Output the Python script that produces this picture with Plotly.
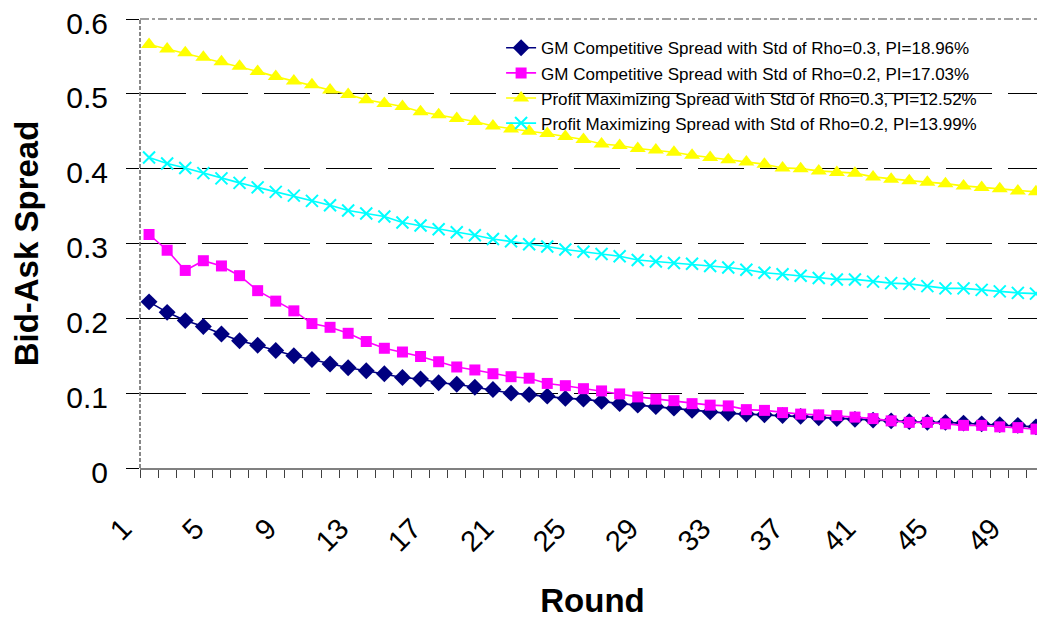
import plotly.graph_objects as go

rounds = list(range(1, 51))

gm_rho03 = [0.222, 0.208, 0.197, 0.189, 0.179, 0.170, 0.164, 0.157, 0.150, 0.145,
            0.139, 0.134, 0.130, 0.126, 0.121, 0.119, 0.114, 0.112, 0.108, 0.105,
            0.100, 0.098, 0.096, 0.093, 0.092, 0.089, 0.086, 0.084, 0.082, 0.080,
            0.077, 0.075, 0.073, 0.072, 0.071, 0.070, 0.069, 0.067, 0.066, 0.065,
            0.064, 0.063, 0.062, 0.061, 0.061, 0.060, 0.059, 0.058, 0.057, 0.055]

gm_rho02 = [0.312, 0.291, 0.264, 0.277, 0.270, 0.257, 0.237, 0.223, 0.210, 0.193,
            0.188, 0.180, 0.169, 0.160, 0.155, 0.149, 0.142, 0.135, 0.131, 0.126,
            0.122, 0.120, 0.113, 0.110, 0.106, 0.103, 0.099, 0.095, 0.092, 0.090,
            0.086, 0.084, 0.083, 0.078, 0.077, 0.074, 0.072, 0.071, 0.070, 0.068,
            0.066, 0.063, 0.061, 0.061, 0.059, 0.057, 0.057, 0.055, 0.054, 0.052]

pm_rho03 = [0.566, 0.560, 0.555, 0.549, 0.543, 0.537, 0.530, 0.523, 0.517, 0.512,
            0.505, 0.499, 0.492, 0.487, 0.483, 0.476, 0.472, 0.467, 0.463, 0.457,
            0.453, 0.450, 0.447, 0.443, 0.439, 0.433, 0.431, 0.427, 0.425, 0.422,
            0.418, 0.415, 0.412, 0.409, 0.406, 0.401, 0.400, 0.397, 0.395, 0.394,
            0.389, 0.386, 0.384, 0.382, 0.380, 0.377, 0.375, 0.373, 0.370, 0.369]

pm_rho02 = [0.415, 0.407, 0.401, 0.394, 0.387, 0.381, 0.375, 0.369, 0.364, 0.357,
            0.351, 0.344, 0.340, 0.336, 0.328, 0.324, 0.319, 0.315, 0.311, 0.306,
            0.303, 0.299, 0.296, 0.292, 0.289, 0.286, 0.283, 0.278, 0.276, 0.274,
            0.273, 0.270, 0.268, 0.265, 0.261, 0.259, 0.257, 0.254, 0.252, 0.252,
            0.249, 0.247, 0.246, 0.243, 0.240, 0.240, 0.238, 0.236, 0.234, 0.233]

series_names = [
    "GM Competitive Spread with Std of Rho=0.3, PI=18.96%",
    "GM Competitive Spread with Std of Rho=0.2, PI=17.03%",
    "Profit Maximizing Spread with Std of Rho=0.3, PI=12.52%",
    "Profit Maximizing Spread with Std of Rho=0.2, PI=13.99%",
]

x_tick_vals = [1, 5, 9, 13, 17, 21, 25, 29, 33, 37, 41, 45, 49]
x_tick_text = [str(v) for v in x_tick_vals]
y_tick_vals = [0, 0.1, 0.2, 0.3, 0.4, 0.5, 0.6]
y_tick_text = ["0", "0.1", "0.2", "0.3", "0.4", "0.5", "0.6"]

FONT = "Liberation Sans, Arial, sans-serif"

fig = go.Figure()
styles = [
    (gm_rho03, "#000080", dict(symbol="diamond", size=13, color="#000080")),
    (gm_rho02, "#FF00FF", dict(symbol="square", size=11, color="#FF00FF")),
    (pm_rho03, "#FFFF00", dict(symbol="triangle-up", size=14, color="#FFFF00")),
    (pm_rho02, "#00FFFF", dict(symbol="x-thin", size=12, color="#00FFFF",
                               line=dict(color="#00FFFF", width=2))),
]
for i, (vals, col, mk) in enumerate(styles):
    fig.add_trace(go.Scatter(
        x=rounds, y=vals, name=series_names[i], mode="lines+markers",
        line=dict(color=col, width=1.6), marker=mk, legendgroup=f"g{i}",
    ))

fig.update_layout(
    width=1037, height=614,
    margin=dict(l=132, r=0, t=11, b=154, autoexpand=False),
    paper_bgcolor="white", plot_bgcolor="white",
    font=dict(family=FONT, color="black"),
    showlegend=True,
    legend=dict(x=0.399, y=0.975, xanchor="left", yanchor="top",
                bgcolor="rgba(0,0,0,0)", borderwidth=0,
                font=dict(family=FONT, size=17, color="black"),
                tracegroupgap=0),
    xaxis=dict(
        range=[0.5, 50.5], tickmode="array", tickvals=x_tick_vals,
        ticktext=x_tick_text, tickangle=-45, ticks="",
        tickfont=dict(family=FONT, size=29, color="black"),
        ticklabelstandoff=30, ticklabelshift=-26,
        showline=True, linecolor="#808080", linewidth=2,
        showgrid=False, zeroline=False, automargin=False,
        minor=dict(tick0=0.5, dtick=1, ticks="outside", ticklen=8,
                   tickcolor="#404040", tickwidth=1, showgrid=False),
        title=dict(text="<b>Round</b>", font=dict(family=FONT, size=33, color="black"),
                   standoff=32),
    ),
    yaxis=dict(
        range=[0, 0.6], tickmode="array", tickvals=y_tick_vals, ticktext=y_tick_text,
        ticks="outside", ticklen=13, tickcolor="black", tickwidth=1,
        tickfont=dict(family=FONT, size=30, color="black"),
        ticklabelstandoff=12, ticklabelshift=4, ticklabeloverflow="allow",
        showline=False, zeroline=False, automargin=False,
        showgrid=True, gridcolor="black", gridwidth=1, griddash="46px,16px",
        title=dict(text="<b>Bid-Ask Spread</b>", font=dict(family=FONT, size=33, color="black"),
                   standoff=22),
    ),
    shapes=[
        dict(type="rect", xref="paper", yref="paper", x0=0.381, x1=0.926,
             y0=0.7595, y1=0.967, fillcolor="white", line=dict(width=0),
             layer="between"),
        dict(type="line", xref="paper", yref="paper", x0=0, x1=1, y0=1, y1=1,
             line=dict(color="white", width=3), layer="above"),
        dict(type="line", xref="paper", yref="paper", x0=0, x1=1, y0=1, y1=1,
             line=dict(color="#808080", width=1.5, dash="dashdot"), layer="above"),
        dict(type="line", xref="paper", yref="paper", x0=0, x1=0, y0=0, y1=1,
             line=dict(color="#606060", width=1.5, dash="4px,2px"), layer="above"),
    ],
)

fig.write_html("out.html")
